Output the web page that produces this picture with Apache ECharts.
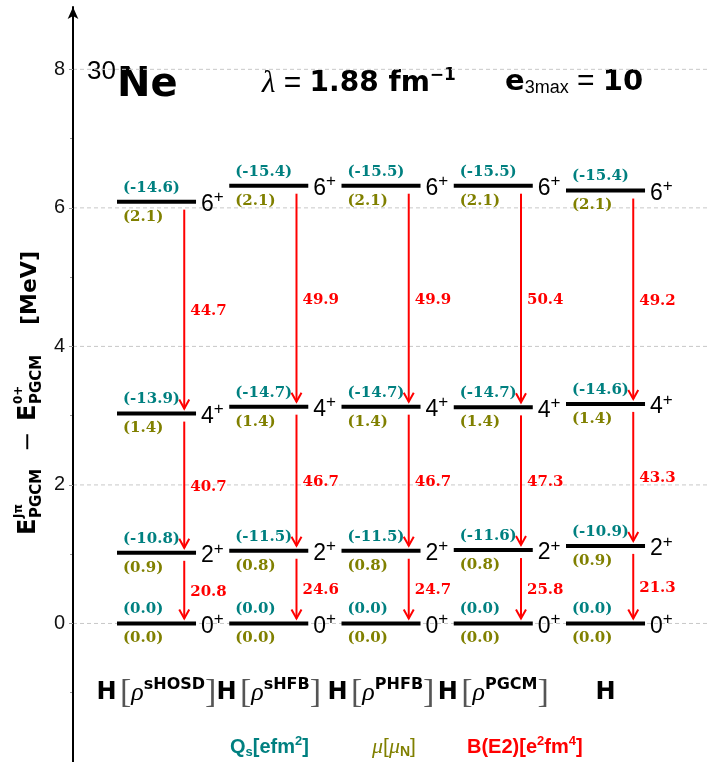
<!DOCTYPE html>
<html><head><meta charset="utf-8">
<script src="https://cdn.jsdelivr.net/npm/echarts@6/dist/echarts.min.js"></script>
<style>html,body{margin:0;padding:0;background:#fff}#c{width:708px;height:762px}</style>
</head><body><div id="c"></div>
<script>
// ---- data ----
const columnLabels = ['sHOSD', 'sHFB', 'PHFB', 'PGCM', ''];
const spins = ['0', '2', '4', '6'];
// excitation energies [MeV] for 0+,2+,4+,6+ per column
const energies = [
  [0, 1.02, 3.03, 6.09],
  [0, 1.05, 3.13, 6.32],
  [0, 1.05, 3.13, 6.32],
  [0, 1.06, 3.12, 6.32],
  [0, 1.12, 3.17, 6.25]
];
// spectroscopic quadrupole moments Qs [e fm^2]
const quadrupole = [
  [0.0, -10.8, -13.9, -14.6],
  [0.0, -11.5, -14.7, -15.4],
  [0.0, -11.5, -14.7, -15.5],
  [0.0, -11.6, -14.7, -15.5],
  [0.0, -10.9, -14.6, -15.4]
];
// magnetic moments mu [mu_N]
const magnetic = [
  [0.0, 0.9, 1.4, 2.1],
  [0.0, 0.8, 1.4, 2.1],
  [0.0, 0.8, 1.4, 2.1],
  [0.0, 0.8, 1.4, 2.1],
  [0.0, 0.9, 1.4, 2.1]
];
// B(E2) [e^2 fm^4] for 2->0, 4->2, 6->4
const be2 = [
  [20.8, 40.7, 44.7],
  [24.6, 46.7, 49.9],
  [24.7, 46.7, 49.9],
  [25.8, 47.3, 50.4],
  [21.3, 43.3, 49.2]
];
const yTicks = [0, 2, 4, 6, 8];
const yMinorTicks = [-1, 1, 3, 5, 7];

// ---- style ----
const TEAL = '#008080', OLIVE = '#808000', RED = '#ff0000';
const HALF = 0.352, ARROW_DX = 0.247;
const X_MIN = 0.256, X_MAX = 5.913;
const NUM_FONT = 'bold 15px "DejaVu Serif"';

const levelData = [];
energies.forEach((row, c) => row.forEach((e, s) => levelData.push([c + 1, e, s, c])));
const transData = [];
energies.forEach((row, c) => { for (let s = 1; s < row.length; s++) transData.push([c + 1, row[s], row[s - 1], be2[c][s - 1]]); });
const labelData = columnLabels.map((l, c) => [c + 1, -1, c]);
const gridData = yTicks.map(v => [X_MIN, v]);

function renderGrid(params, api) {
  const a = api.coord([X_MIN, api.value(1)]), b = api.coord([X_MAX, api.value(1)]);
  return { type: 'line', shape: { x1: a[0], y1: a[1], x2: b[0], y2: b[1] },
    style: { stroke: '#c8c8c8', lineWidth: 1, lineDash: [4, 3] } };
}

function renderLevel(params, api) {
  const col = api.value(0), e = api.value(1), s = api.value(2), c = api.value(3);
  const a = api.coord([col - HALF, e]), b = api.coord([col + HALF, e]);
  return { type: 'group', children: [
    { type: 'line', shape: { x1: a[0], y1: a[1], x2: b[0], y2: b[1] }, style: { stroke: '#000', lineWidth: 4 } },
    { type: 'text', x: a[0] + 6, y: a[1] - 14, style: { text: '(' + quadrupole[c][s].toFixed(1) + ')', fill: TEAL, font: NUM_FONT, align: 'left', verticalAlign: 'middle' } },
    { type: 'text', x: a[0] + 6, y: a[1] + 15, style: { text: '(' + magnetic[c][s].toFixed(1) + ')', fill: OLIVE, font: NUM_FONT, align: 'left', verticalAlign: 'middle' } },
    { type: 'text', x: b[0] + 5, y: a[1] + 3, style: { text: '{n|' + spins[s] + '}{p|+}', align: 'left', verticalAlign: 'middle',
      rich: { n: { fontSize: 23, fontFamily: 'Liberation Sans', fill: '#000' },
              p: { fontSize: 17, fontFamily: 'Liberation Sans', fill: '#000', padding: [0, 0, 14, 0] } } } }
  ]};
}

function renderTrans(params, api) {
  const x = api.value(0) + ARROW_DX;
  const p1 = api.coord([x, api.value(1)]), p2 = api.coord([x, api.value(2)]);
  const px = p1[0], y1 = p1[1] + 8, y2 = p2[1] - 5;
  return { type: 'group', children: [
    { type: 'line', shape: { x1: px, y1: y1, x2: px, y2: y2 }, style: { stroke: RED, lineWidth: 2 } },
    { type: 'polyline', shape: { points: [[px - 5, y2 - 9], [px, y2], [px + 5, y2 - 9]] }, style: { stroke: RED, lineWidth: 2, fill: 'none' } },
    { type: 'text', x: px + 6, y: (y1 + y2) / 2 + 2, style: { text: api.value(3).toFixed(1), fill: RED, font: NUM_FONT, align: 'left', verticalAlign: 'middle' } }
  ]};
}

function renderColLabel(params, api) {
  const c = api.value(2);
  const p = api.coord([api.value(0), api.value(1)]);
  const l = columnLabels[c];
  const text = l ? '{h|H} {br|[}{r|ρ}{s|' + l + '}{br|]}' : '{h|H}';
  return { type: 'text', x: p[0], y: p[1], style: { text: text, align: 'center', verticalAlign: 'middle',
    rich: {
      h: { fontSize: 24, fontWeight: 'bold', fontFamily: 'DejaVu Sans', fill: '#000' },
      br: { fontSize: 34, fontFamily: 'Liberation Serif', fill: '#555' },
      r: { fontSize: 26, fontStyle: 'italic', fontFamily: 'Liberation Serif', fill: '#000' },
      s: { fontSize: 16, fontWeight: 'bold', fontFamily: 'DejaVu Sans', fill: '#000', padding: [0, 0, 16, 0] }
    } } };
}

const chart = echarts.init(document.getElementById('c'), null, { renderer: 'canvas' });
chart.setOption({
  animation: false,
  backgroundColor: '#fff',
  grid: { left: 73, right: 0, top: 7, bottom: 0, outerBoundsMode: 'none', containLabel: false },
  xAxis: { type: 'value', min: X_MIN, max: X_MAX, show: false },
  yAxis: [{
    type: 'value', min: -2, max: 8.9, interval: 2,
    axisLine: { show: true, lineStyle: { color: '#000', width: 2 }, symbol: ['none', 'arrow'], symbolSize: [8, 12] },
    axisTick: { show: true, length: 4, lineStyle: { color: '#999' }, customValues: yTicks },
    axisLabel: { show: true, customValues: yTicks, fontSize: 20, fontFamily: 'Liberation Sans', color: '#111', margin: 8 },
    splitLine: { show: false }, z: 5
  }, {
    type: 'value', min: -2, max: 8.9, position: 'left',
    axisLine: { show: false },
    axisTick: { show: true, length: 3, lineStyle: { color: '#999' }, customValues: yMinorTicks },
    axisLabel: { show: false },
    splitLine: { show: false }
  }],
  series: [
    { type: 'custom', renderItem: renderGrid, data: gridData, z: 0, silent: true, clip: false },
    { type: 'custom', renderItem: renderTrans, data: transData, z: 2, clip: false },
    { type: 'custom', renderItem: renderLevel, data: levelData, z: 3, clip: false },
    { type: 'custom', renderItem: renderColLabel, data: labelData, z: 3, clip: false }
  ],
  graphic: [
    { type: 'text', x: 87, y: 72, style: { text: '30', font: '26px "Liberation Sans"', fill: '#000', verticalAlign: 'middle' } },
    { type: 'text', x: 117, y: 86, style: { text: 'Ne', font: 'bold 40px "DejaVu Sans"', fill: '#000', verticalAlign: 'middle' } },
    { type: 'text', x: 262, y: 84, style: { text: '{l|λ}{t| = }{b|1.88 fm}{p|−1}', verticalAlign: 'middle',
      rich: {
        l: { fontSize: 31, fontStyle: 'italic', fontFamily: 'Liberation Serif', fill: '#000' },
        t: { fontSize: 30, fontFamily: 'Liberation Sans', fill: '#000' },
        b: { fontSize: 28, fontWeight: 'bold', fontFamily: 'DejaVu Sans', fill: '#000' },
        p: { fontSize: 17, fontWeight: 'bold', fontFamily: 'DejaVu Sans', fill: '#000', padding: [0, 0, 17, 0] }
      } } },
    { type: 'text', x: 505, y: 82, style: { text: '{b|e}{s|3max}{t| = }{b|10}', verticalAlign: 'middle',
      rich: {
        b: { fontSize: 29, fontWeight: 'bold', fontFamily: 'DejaVu Sans', fill: '#000' },
        s: { fontSize: 18, fontFamily: 'Liberation Sans', fill: '#000', padding: [12, 0, 0, 0] },
        t: { fontSize: 30, fontFamily: 'Liberation Sans', fill: '#000' }
      } } },
    // y axis title, rotated
    { type: 'group', x: 0, y: 535, rotation: Math.PI / 2, children: [
      { type: 'text', x: 0, y: 29, style: { text: 'E', font: 'bold 24px "DejaVu Sans"', fill: '#000', verticalAlign: 'middle' } },
      { type: 'text', x: 17, y: 19, style: { text: 'Jπ', font: 'bold 12px "DejaVu Sans"', fill: '#000', verticalAlign: 'middle' } },
      { type: 'text', x: 17, y: 37, style: { text: 'PGCM', font: 'bold 15px "DejaVu Sans"', fill: '#000', verticalAlign: 'middle' } },
      { type: 'text', x: 83, y: 29, style: { text: '−', font: '24px "DejaVu Sans"', fill: '#000', verticalAlign: 'middle' } },
      { type: 'text', x: 114, y: 29, style: { text: 'E', font: 'bold 24px "DejaVu Sans"', fill: '#000', verticalAlign: 'middle' } },
      { type: 'text', x: 131, y: 19, style: { text: '0+', font: 'bold 12px "DejaVu Sans"', fill: '#000', verticalAlign: 'middle' } },
      { type: 'text', x: 131, y: 37, style: { text: 'PGCM', font: 'bold 15px "DejaVu Sans"', fill: '#000', verticalAlign: 'middle' } },
      { type: 'text', x: 210, y: 30, style: { text: '[MeV]', font: 'bold 22px "DejaVu Sans"', fill: '#000', verticalAlign: 'middle' } }
    ] },
    // legend-like annotations
    { type: 'text', x: 230, y: 747, style: { text: '{a|Q}{b|s}{a|[efm}{c|2}{a|]}', verticalAlign: 'middle',
      rich: {
        a: { fontSize: 20, fontWeight: 'bold', fontFamily: 'Liberation Sans', fill: TEAL },
        b: { fontSize: 13, fontWeight: 'bold', fontFamily: 'Liberation Sans', fill: TEAL, padding: [10, 0, 0, 0] },
        c: { fontSize: 13, fontWeight: 'bold', fontFamily: 'Liberation Sans', fill: TEAL, padding: [0, 0, 12, 0] }
      } } },
    { type: 'text', x: 372, y: 747, style: { text: '{m|μ}{a|[}{m|μ}{b|N}{a|]}', verticalAlign: 'middle',
      rich: {
        a: { fontSize: 21, fontFamily: 'Liberation Sans', fill: OLIVE },
        m: { fontSize: 22, fontStyle: 'italic', fontFamily: 'Liberation Serif', fill: OLIVE },
        b: { fontSize: 14, fontWeight: 'bold', fontFamily: 'Liberation Sans', fill: OLIVE, padding: [10, 0, 0, 0] }
      } } },
    { type: 'text', x: 467, y: 747, style: { text: '{a|B(E2)[e}{c|2}{a|fm}{c|4}{a|]}', verticalAlign: 'middle',
      rich: {
        a: { fontSize: 20, fontWeight: 'bold', fontFamily: 'Liberation Sans', fill: RED },
        c: { fontSize: 13, fontWeight: 'bold', fontFamily: 'Liberation Sans', fill: RED, padding: [0, 0, 12, 0] }
      } } }
  ]
});
</script>
</body></html>
